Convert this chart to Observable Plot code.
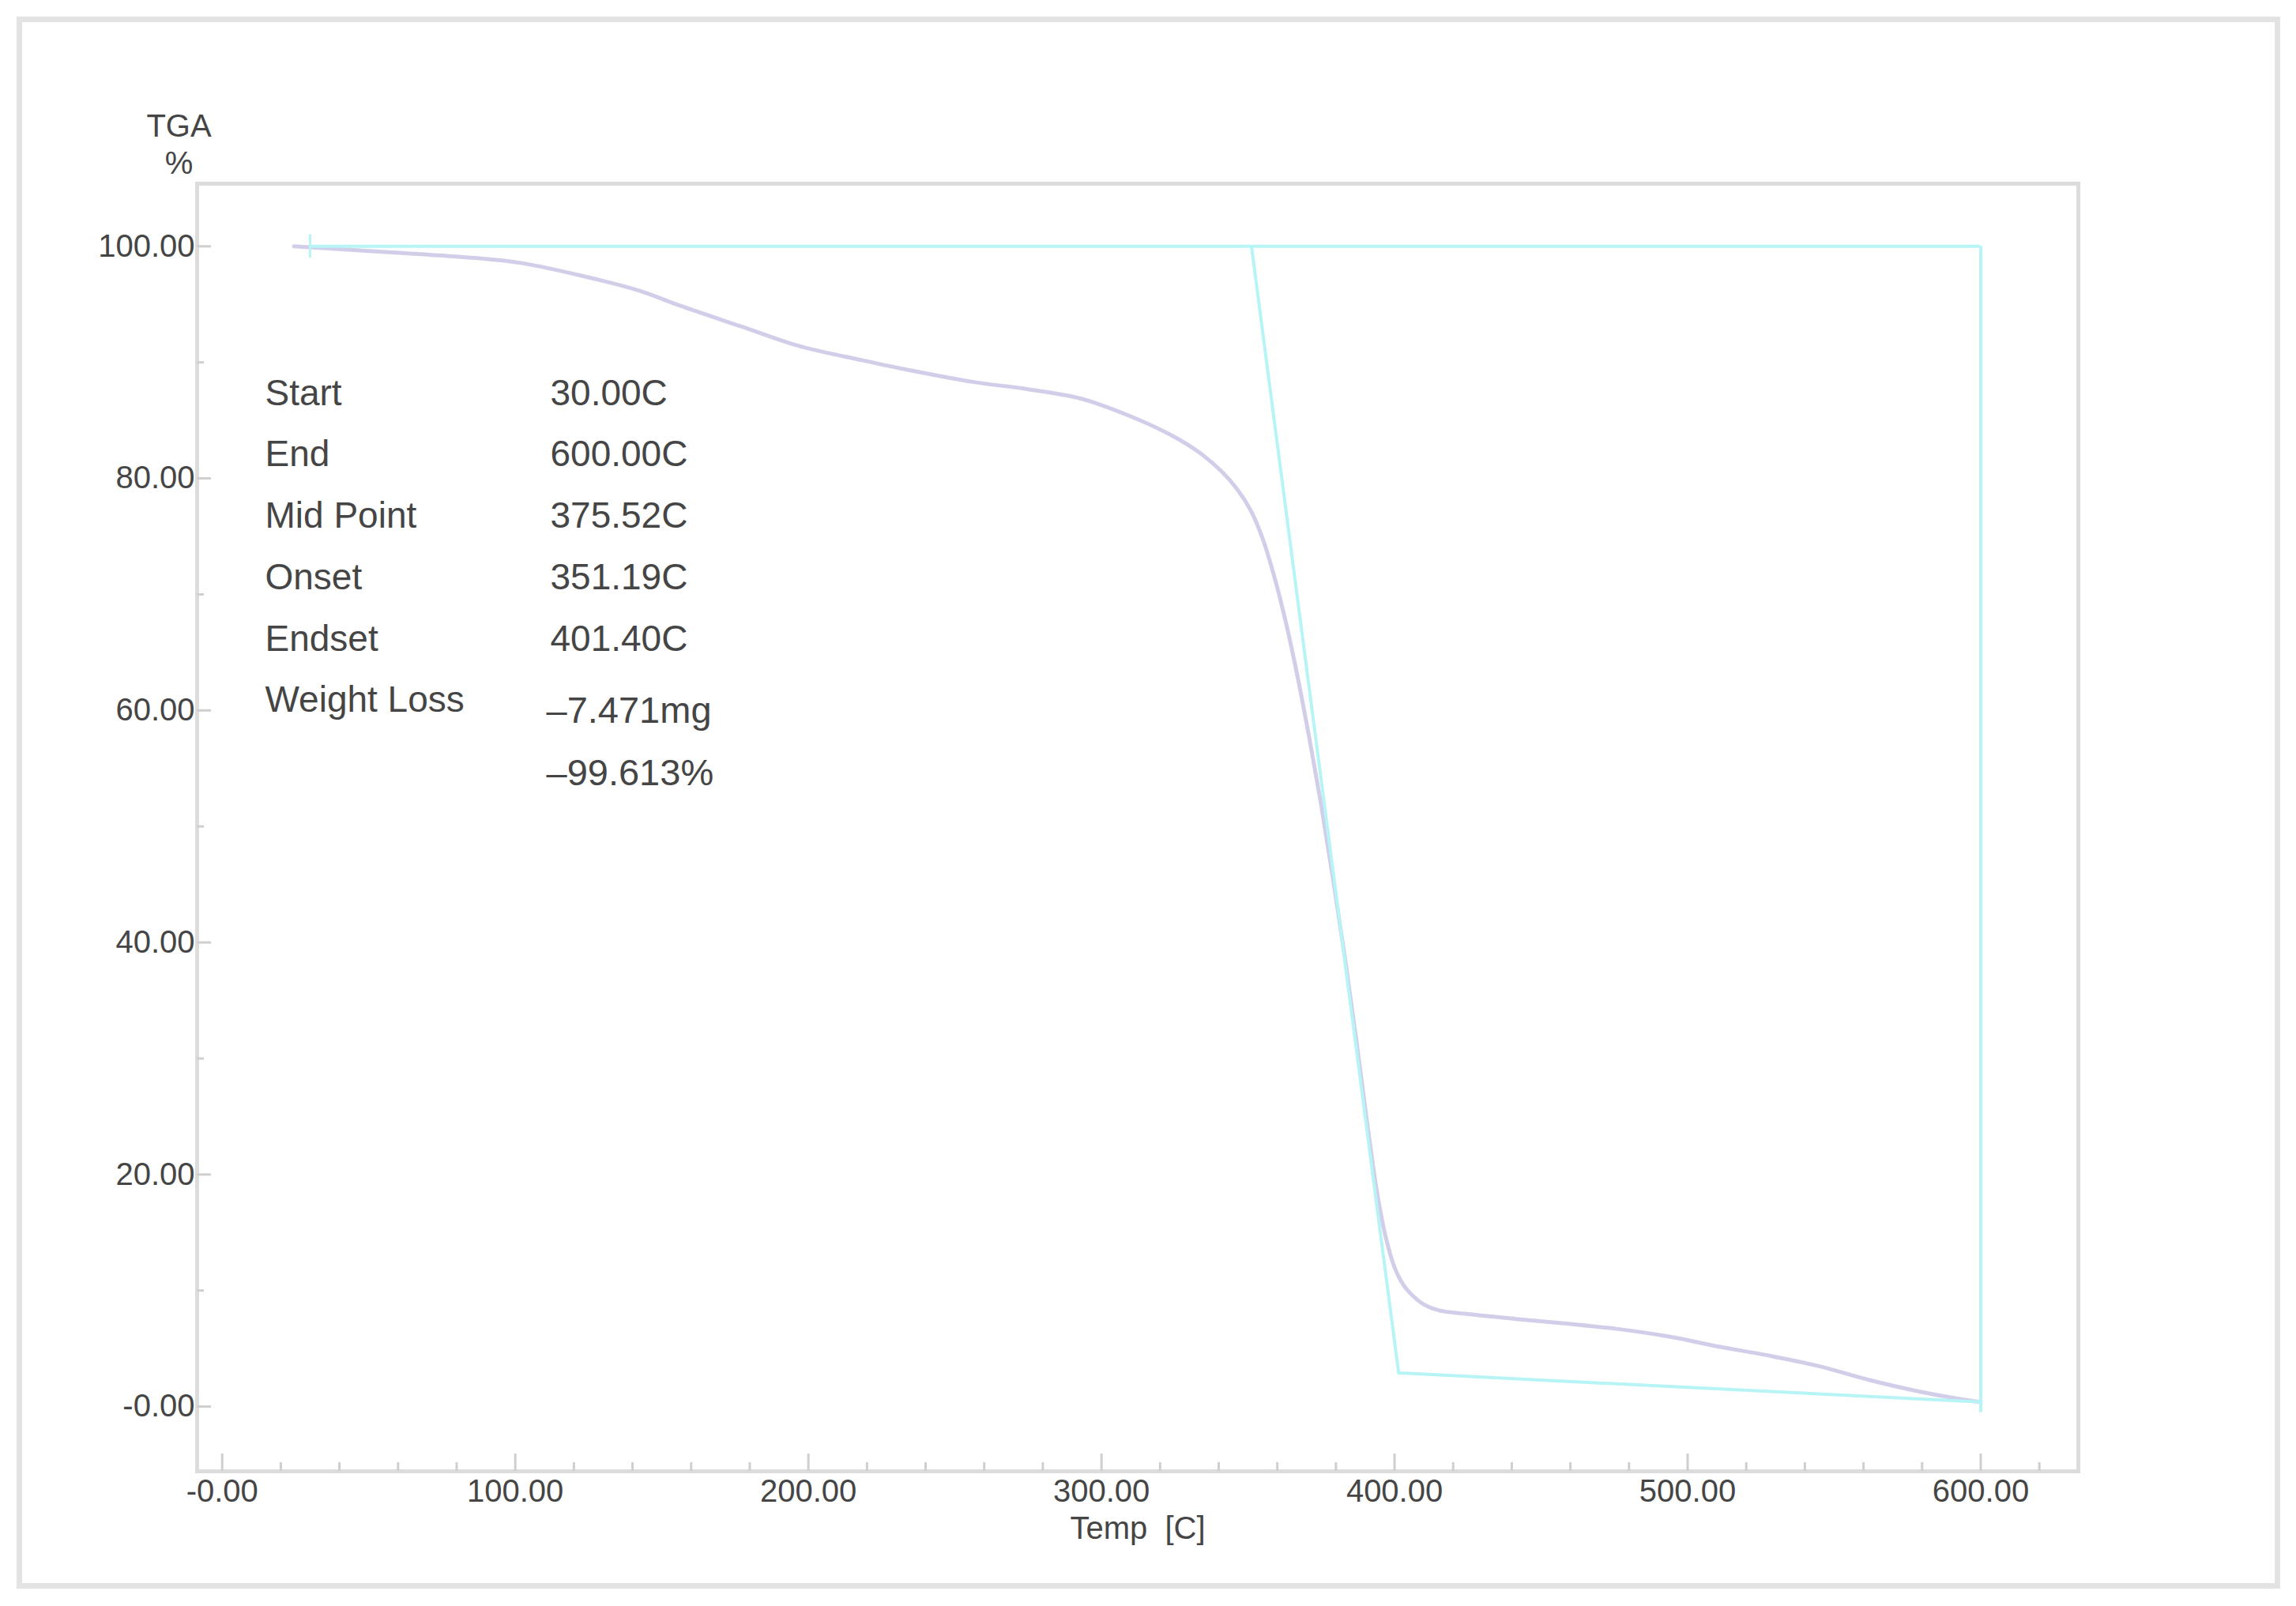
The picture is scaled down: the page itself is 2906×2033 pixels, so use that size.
<!DOCTYPE html>
<html>
<head>
<meta charset="utf-8">
<script src="https://cdn.jsdelivr.net/npm/d3@7"></script>
<script src="https://cdn.jsdelivr.net/npm/@observablehq/plot@0.6"></script>
<style>
  html, body { margin: 0; padding: 0; background: #ffffff; }
  #chart svg { display: block; }
</style>
</head>
<body>
<div id="chart"></div>
<script>
// ---- TGA curve ----
const tempC = [24.5, 50, 75, 101, 122, 142, 156, 177, 197, 218, 233, 256.5, 274.5, 292.6, 310.4, 324, 333, 341, 346.5, 351, 355, 359, 363, 367, 371, 375, 379, 383, 387, 391, 394, 397, 400, 403, 406, 410, 415, 424, 441.5, 458.7, 475.7, 493, 510, 527.5, 544.5, 561.8, 579, 598, 600];
const tgaPct = [100, 99.6, 99.2, 98.6, 97.5, 96.2, 94.9, 93.1, 91.4, 90.2, 89.4, 88.3, 87.7, 86.9, 85.3, 83.7, 82.3, 80.6, 79.0, 77.2, 74.8, 71.5, 67.5, 62.8, 57.5, 51.8, 45.5, 38.8, 31.5, 23.8, 18.5, 14.6, 12.0, 10.5, 9.6, 8.8, 8.3, 8.0, 7.55, 7.15, 6.7, 6.06, 5.2, 4.4, 3.5, 2.3, 1.3, 0.45, 0.39];

// ---- analysis (onset / endset construction) ----
const analysisTemp = [351.19, 401.40, 600.00];
const analysisPct = [100, 2.9, 0.39];
const startTemp = 30.00;
const endTemp = 600.00;
const baseLevel = 100;
const endBottom = -0.5;

// ---- ticks ----
const xMajorTicks = [0, 100, 200, 300, 400, 500, 600];
const xTickLabels = ["-0.00", "100.00", "200.00", "300.00", "400.00", "500.00", "600.00"];
const xMinorTicks = [20, 40, 60, 80, 120, 140, 160, 180, 220, 240, 260, 280, 320, 340, 360, 380, 420, 440, 460, 480, 520, 540, 560, 580, 620];
const yMajorTicks = [0, 20, 40, 60, 80, 100];
const yTickLabels = ["-0.00", "20.00", "40.00", "60.00", "80.00", "100.00"];
const yMinorTicks = [10, 30, 50, 70, 90];

// ---- texts ----
const yTitle = ["TGA", "%"];
const xTitle = "Temp \u00a0[C]";
const infoLabels = ["Start", "End", "Mid Point", "Onset", "Endset", "Weight Loss"];
const infoValues = ["30.00C", "600.00C", "375.52C", "351.19C", "401.40C"];
const lossValues = ["\u20137.471mg", "\u201399.613%"];

// ---- build ----
const tga = tempC.map((t, i) => ({t, p: tgaPct[i]}));
const analysis = analysisTemp.map((t, i) => ({t, p: analysisPct[i]}));
const xLabelMap = new Map(xMajorTicks.map((d, i) => [d, xTickLabels[i]]));
const yLabelMap = new Map(yMajorTicks.map((d, i) => [d, yTickLabels[i]]));

const W = 2906, H = 2033;
const mL = 249, mR = 276, mT = 232, mB = 171;
const plotW = W - mL - mR, plotH = H - mT - mB;
const font = "'Liberation Sans', Arial, Helvetica, sans-serif";
const textColor = "#454545";
const tickColor = "#cfcfcf";
const tgaColor = "#d2ceea";
const cyan = "#b6f4f6";

const chart = Plot.plot({
  width: W,
  height: H,
  marginLeft: mL,
  marginRight: mR,
  marginTop: mT,
  marginBottom: mB,
  x: {domain: [-8.55, 633.3]},
  y: {domain: [-5.58, 105.4]},
  style: {fontFamily: font, background: "#ffffff", color: textColor},
  marks: [
    // outer picture border
    Plot.frame({stroke: "#e3e3e3", strokeWidth: 7, insetLeft: -225, insetTop: -208, insetRight: -252, insetBottom: -145}),
    // plot frame
    Plot.frame({stroke: "#dcdcdc", strokeWidth: 5}),
    // inward ticks
    Plot.tickX(xMajorTicks, {x: d => d, insetTop: plotH - 22, stroke: tickColor, strokeWidth: 3}),
    Plot.tickX(xMinorTicks, {x: d => d, insetTop: plotH - 11, stroke: tickColor, strokeWidth: 3}),
    Plot.tickY(yMajorTicks, {y: d => d, insetRight: plotW - 18, stroke: tickColor, strokeWidth: 3}),
    Plot.tickY(yMinorTicks, {y: d => d, insetRight: plotW - 9, stroke: tickColor, strokeWidth: 3}),
    // axes labels
    Plot.axisX(xMajorTicks, {tickSize: 0, tickPadding: 10, tickFormat: d => xLabelMap.get(d), fontSize: 40, label: null, fill: textColor}),
    Plot.axisY(yMajorTicks, {tickSize: 0, tickPadding: 3, tickFormat: d => yLabelMap.get(d), fontSize: 40, label: null, fill: textColor}),
    // TGA curve
    Plot.line(tga, {x: "t", y: "p", stroke: tgaColor, strokeWidth: 5, curve: "catmull-rom"}),
    // analysis construction lines
    Plot.ruleY([baseLevel], {x1: startTemp, x2: endTemp, stroke: cyan, strokeWidth: 4}),
    Plot.ruleX([startTemp], {y1: baseLevel - 1, y2: baseLevel + 1, stroke: cyan, strokeWidth: 3}),
    Plot.ruleX([endTemp], {y1: endBottom, y2: baseLevel, stroke: cyan, strokeWidth: 4}),
    Plot.line(analysis, {x: "t", y: "p", stroke: cyan, strokeWidth: 4}),
    // titles
    Plot.text([yTitle.join("\n")], {frameAnchor: "top-left", dx: -23, dy: -51, lineAnchor: "middle", textAnchor: "middle", fontSize: 40, lineHeight: 1.175, fill: textColor}),
    Plot.text([xTitle], {frameAnchor: "bottom", dy: 73, lineAnchor: "middle", textAnchor: "middle", fontSize: 40, fill: textColor}),
    // info block
    Plot.text([infoLabels.join("\n")], {frameAnchor: "top-left", dx: 86, dy: 225, lineAnchor: "top", textAnchor: "start", fontSize: 46, lineHeight: 1.69, fill: textColor}),
    Plot.text([infoValues.join("\n")], {frameAnchor: "top-left", dx: 447, dy: 225, lineAnchor: "top", textAnchor: "start", fontSize: 46, lineHeight: 1.69, fill: textColor}),
    Plot.text([lossValues.join("\n")], {frameAnchor: "top-left", dx: 442, dy: 626, lineAnchor: "top", textAnchor: "start", fontSize: 47, lineHeight: 1.68, fill: textColor})
  ]
});
document.getElementById("chart").appendChild(chart);
</script>
</body>
</html>
